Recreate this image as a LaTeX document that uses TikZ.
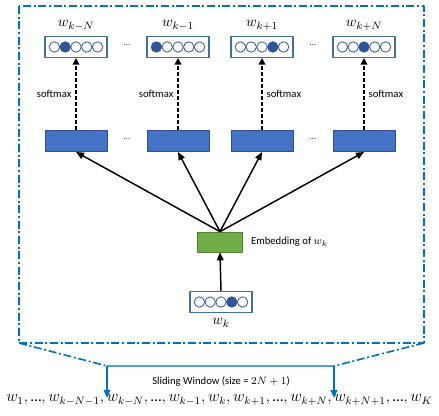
\documentclass[tikz,border=0pt]{standalone}
\usepackage{fontspec}
\setmainfont{Carlito}
\usetikzlibrary{arrows.meta, positioning}

\definecolor{frameblue}{HTML}{0070C0}
\definecolor{lineblue}{HTML}{5B9BD5}
\definecolor{boxline}{HTML}{41719C}
\definecolor{dotblue}{HTML}{2F5597}
\definecolor{hidblue}{HTML}{4472C4}
\definecolor{hidline}{HTML}{2F528F}
\definecolor{embgreen}{HTML}{70AD47}
\definecolor{embline}{HTML}{507E32}

\tikzset{
	onehot/.style={draw=boxline, fill=white, line width=0.8pt, minimum width=46.5pt, minimum height=15.75pt, inner sep=0pt},
	hidden/.style={draw=hidline, fill=hidblue, line width=0.5pt, minimum width=46.5pt, minimum height=16pt, inner sep=0pt},
	embed/.style={draw=embline, fill=embgreen, line width=0.5pt, minimum width=33.75pt, minimum height=15pt, inner sep=0pt},
	lbl/.style={font=\fontsize{8}{9}\selectfont, inner sep=1pt},
	wlbl/.style={font=\fontsize{11}{12}\selectfont, inner sep=1pt},
	dots/.style={font=\fontsize{6}{7}\selectfont},
	softarrow/.style={line width=1.4pt, dashed, dash pattern=on 3pt off 1.5pt, -{Triangle[length=5pt, width=5pt]}},
	feedarrow/.style={line width=1.1pt, -{Triangle[length=6pt, width=5pt]}},
	windowarrow/.style={frameblue, line width=1.2pt, -{Triangle[length=6pt, width=5pt]}},
	dashdot/.style={frameblue, line width=1.2pt, dash pattern=on 6pt off 2pt on 1.5pt off 2pt},
}

% one-hot vector: five circles in a box, #2 is the hot one
\newcommand{\hotcircles}[2]{
	\foreach \i in {1,...,5} {
		\draw[dotblue, line width=0.6pt, fill=white] ([xshift={(\i-3)*8.1pt}]#1.center) circle (3.9pt);
	}
	\fill[dotblue] ([xshift={(#2-3)*8.1pt}]#1.center) circle (3.9pt);
}
% short ellipsis for the word sequence
\newcommand{\sdots}{\mbox{…}}

\begin{document}
\begin{tikzpicture}[x=0.75pt, y=-0.75pt, line join=round]
	
	\useasboundingbox (0,0) rectangle (439,416);
	
	% outer frame of the window
	\draw[dashdot] (19,6) rectangle (424,343);
	\coordinate (fsw) at (19,343);
	\coordinate (fse) at (424,343);
	
	% output one-hot vectors
	\node[onehot] (out1) at (76,47) {};
	\node[onehot] (out2) at (178,47) {};
	\node[onehot] (out3) at (262,47) {};
	\node[onehot] (out4) at (364,47) {};
	\hotcircles{out1}{2}
	\hotcircles{out2}{1}
	\hotcircles{out3}{4}
	\hotcircles{out4}{3}
	
	\node[wlbl, above=3pt of out1] (l1) {$w_{k-N}$};
	\node[wlbl, above=3pt of out2] (l2) {$w_{k-1}$};
	\node[wlbl, above=3pt of out3] (l3) {$w_{k+1}$};
	\node[wlbl, above=3pt of out4] (l4) {$w_{k+N}$};
	
	\node[dots] at (127,45) {...};
	\node[dots] at (313,45) {...};
	
	% hidden layers
	\node[hidden] (hid1) at (76,141) {};
	\node[hidden] (hid2) at (178,141) {};
	\node[hidden] (hid3) at (262,141) {};
	\node[hidden] (hid4) at (364,141) {};
	
	\node[dots] at (127,139) {...};
	\node[dots] at (313,139) {...};
	
	% softmax arrows
	\foreach \j in {1,...,4} {
		\draw[softarrow] (hid\j.north) -- (out\j.south);
	}
	\node[lbl, anchor=east] at (73,94) {softmax};
	\node[lbl, anchor=east] at (175,94) {softmax};
	\node[lbl, anchor=west] at (265,94) {softmax};
	\node[lbl, anchor=west] at (367,94) {softmax};
	
	% embedding and input
	\node[embed] (emb) at (220,242) {};
	\node[lbl, right=5pt of emb] (embl) {Embedding of $w_k$};
	\foreach \j in {1,...,4} {
		\draw[feedarrow] (emb.north) -- (hid\j.south);
	}
	
	\node[onehot] (inp) at (221,302) {};
	\hotcircles{inp}{4}
	\node[wlbl, below=3pt of inp] (linp) {$w_k$};
	\draw[feedarrow] (inp.north) -- (emb.south);
	
	% sliding window
	\coordinate (wl) at (107,366);
	\coordinate (wr) at (334,366);
	\draw[dashdot] (fsw) -- (wl);
	\draw[dashdot] (fse) -- (wr);
	\draw[lineblue, line width=0.8pt] (wl) -- (wr);
	\draw[windowarrow] (wl) -- ++(0,32);
	\draw[windowarrow] (wr) -- ++(0,32);
	\node[lbl] (win) at (221,382) {Sliding Window (size = $2N+1$)};
	
	% word sequence
	\node[anchor=west, inner sep=0pt, font=\fontsize{11.5}{13}\selectfont] (seq) at (6,400)
	{$w_1, \sdots, w_{k-N-1}, w_{k-N},\sdots, w_{k-1}, w_k, w_{k+1},\sdots,w_{k+N}, w_{k+N+1}, \sdots, w_K$};
	
\end{tikzpicture}
\end{document}
